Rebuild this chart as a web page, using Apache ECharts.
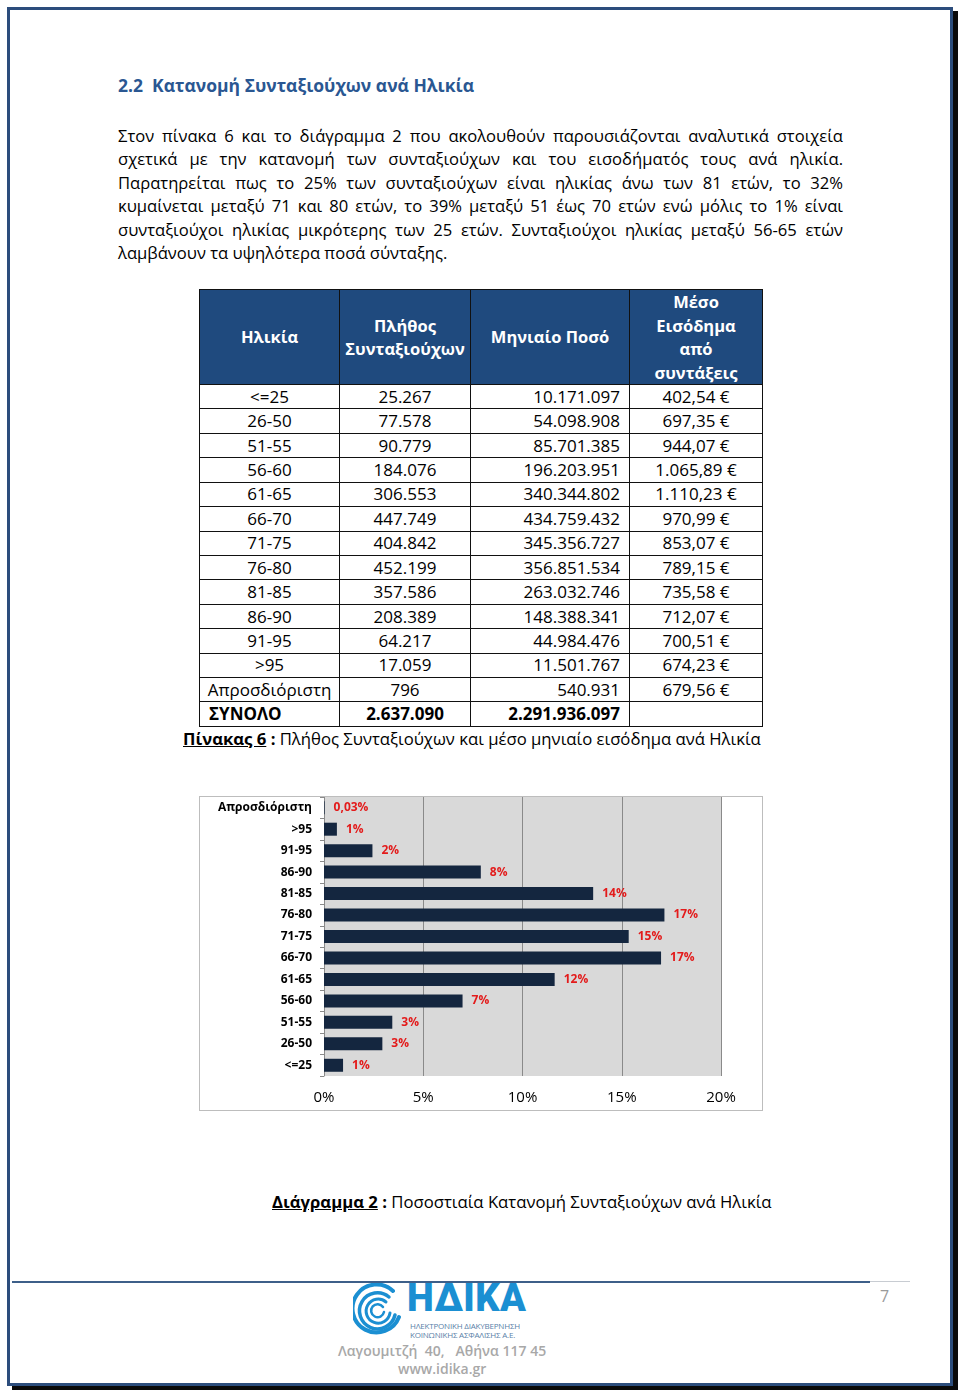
<!DOCTYPE html>
<html>
<head>
<meta charset="utf-8">
<script src="https://cdn.jsdelivr.net/npm/echarts@6/dist/echarts.min.js"></script>
<style>
  html, body { margin: 0; padding: 0; background: #fff; }
  body { width: 960px; height: 1392px; position: relative; overflow: hidden; font-family: "Open Sans", "Noto Sans", sans-serif; color: #000; }
  .frame { position: absolute; left: 7px; top: 7px; width: 940px; height: 1373px; border: 3px solid #2c4d7c; box-shadow: 5px 4px 0 #0a0a0a; }
  .abs { position: absolute; white-space: nowrap; }
  h2 { position: absolute; left: 118px; top: 73px; margin: 0; font-size: 17.5px; font-weight: 700; color: #2a5792; }
  .para { position: absolute; left: 118px; width: 725px; top: 124px; font-size: 16.6px; line-height: 23.4px; }
  .para div { text-align: justify; text-align-last: justify; white-space: nowrap; }
  .para div.last { text-align-last: left; }
  table { position: absolute; left: 199px; top: 289px; border-collapse: collapse; table-layout: fixed; font-size: 17px; }
  td, th { border: 1.5px solid #111; padding: 0; overflow: hidden; white-space: nowrap; }
  th { background: #1f4a7e; color: #fff; font-weight: 700; line-height: 23.5px; height: 94px; font-size: 16.5px; }
  td { height: 23.43px; line-height: 22px; }
  .c { text-align: center; }
  .r { text-align: right; padding-right: 9px; }
  .l { text-align: left; padding-left: 9px; }
  .b { font-weight: 700; }
  .cap { font-size: 16.7px; }
  #chartBox { position: absolute; left: 199px; top: 796px; width: 564px; height: 315px; border: 1px solid #bdbdbd; box-sizing: border-box; }
  #chart { position: absolute; left: 0; top: 0; width: 562px; height: 313px; }
</style>
</head>
<body>
<div class="frame"></div>

<h2>2.2&nbsp; Κατανομή Συνταξιούχων ανά Ηλικία</h2>

<div class="para">
  <div>Στον πίνακα 6 και το διάγραμμα 2 που ακολουθούν παρουσιάζονται αναλυτικά στοιχεία</div>
  <div>σχετικά με την κατανομή των συνταξιούχων και του εισοδήματός τους ανά ηλικία.</div>
  <div>Παρατηρείται πως το 25% των συνταξιούχων είναι ηλικίας άνω των 81 ετών, το 32%</div>
  <div>κυμαίνεται μεταξύ 71 και 80 ετών, το 39% μεταξύ 51 έως 70 ετών ενώ μόλις το 1% είναι</div>
  <div>συνταξιούχοι ηλικίας μικρότερης των 25 ετών. Συνταξιούχοι ηλικίας μεταξύ 56-65 ετών</div>
  <div class="last">λαμβάνουν τα υψηλότερα ποσά σύνταξης.</div>
</div>

<table id="tbl">
  <colgroup><col style="width:140px"><col style="width:131px"><col style="width:159px"><col style="width:133px"></colgroup>
  <thead>
    <tr>
      <th>Ηλικία</th>
      <th>Πλήθος<br>Συνταξιούχων</th>
      <th>Μηνιαίο Ποσό</th>
      <th>Μέσο<br>Εισόδημα<br>από<br>συντάξεις</th>
    </tr>
  </thead>
  <tbody id="tbody"></tbody>
</table>

<div class="abs cap" style="left:183px; top:727px;"><b><u>Πίνακας 6</u> :</b> Πλήθος Συνταξιούχων και μέσο μηνιαίο εισόδημα ανά Ηλικία</div>

<div id="chartBox"><div id="chart"></div></div>

<div class="abs cap" style="left:272px; top:1190px;"><b><u>Διάγραμμα 2</u> :</b> Ποσοστιαία Κατανομή Συνταξιούχων ανά Ηλικία</div>

<!-- footer -->
<div class="abs" style="left:12px; top:1281px; width:858px; height:2px; background:#3d5f89;"></div>
<div class="abs" style="left:870px; top:1281px; width:40px; height:1px; background:#c8ccd2;"></div>
<div class="abs" style="left:880px; top:1285px; font-size:16px; color:#9a9a9a;">7</div>
<svg class="abs" style="left:353px; top:1283px;" width="52" height="56" viewBox="0 0 52 56">
  <g fill="none" stroke="#1b8fd2" stroke-linecap="round">
    <path d="M40 8 A24 24 0 1 0 46 34" stroke-width="4"/>
    <path d="M36 14 A18 18 0 1 0 42 32" stroke-width="3.5"/>
    <path d="M33 19 A12 12 0 1 0 37 30" stroke-width="3"/>
    <path d="M30 24 A6.5 6.5 0 1 0 31 29" stroke-width="2.5"/>
  </g>
</svg>
<div class="abs" style="left:407px; top:1282px; height:32px; font-size:38px; line-height:32px; font-weight:900; color:#1b8fd2; font-family:Roboto, sans-serif; letter-spacing:0.5px;">ΗΔΙΚΑ</div>
<div class="abs" style="left:410px; top:1321px; font-size:8px; color:#5a7fa8; letter-spacing:-0.2px; line-height:9px;">ΗΛΕΚΤΡΟΝΙΚΗ ΔΙΑΚΥΒΕΡΝΗΣΗ<br>ΚΟΙΝΩΝΙΚΗΣ ΑΣΦΑΛΙΣΗΣ Α.Ε.</div>
<div class="abs" style="left:338px; top:1341px; font-size:14px; font-weight:600; color:#a8a8a8;">Λαγουμιτζή&nbsp; 40,&nbsp;&nbsp; Αθήνα 117 45</div>
<div class="abs" style="left:398px; top:1359px; font-size:14px; font-weight:600; color:#a8a8a8;">www.idika.gr</div>

<script>
// ---- Table 6 data ----
const tableAges = ['<=25', '26-50', '51-55', '56-60', '61-65', '66-70', '71-75', '76-80', '81-85', '86-90', '91-95', '>95', 'Απροσδιόριστη'];
const tableCounts = ['25.267', '77.578', '90.779', '184.076', '306.553', '447.749', '404.842', '452.199', '357.586', '208.389', '64.217', '17.059', '796'];
const tableAmounts = ['10.171.097', '54.098.908', '85.701.385', '196.203.951', '340.344.802', '434.759.432', '345.356.727', '356.851.534', '263.032.746', '148.388.341', '44.984.476', '11.501.767', '540.931'];
const tableAvgIncome = ['402,54 €', '697,35 €', '944,07 €', '1.065,89 €', '1.110,23 €', '970,99 €', '853,07 €', '789,15 €', '735,58 €', '712,07 €', '700,51 €', '674,23 €', '679,56 €'];
const totalRow = ['ΣΥΝΟΛΟ', '2.637.090', '2.291.936.097', ''];

// ---- Chart 2 data (bottom to top) ----
const chartCategories = ['<=25', '26-50', '51-55', '56-60', '61-65', '66-70', '71-75', '76-80', '81-85', '86-90', '91-95', '>95', 'Απροσδιόριστη'];
const chartPercent = [0.96, 2.94, 3.44, 6.98, 11.62, 16.98, 15.35, 17.15, 13.56, 7.90, 2.44, 0.65, 0.03];
const chartLabels = ['1%', '3%', '3%', '7%', '12%', '17%', '15%', '17%', '14%', '8%', '2%', '1%', '0,03%'];
const xTicks = [0, 5, 10, 15, 20];

// build table
const tb = document.getElementById('tbody');
let html = '';
for (let i = 0; i < tableAges.length; i++) {
  html += '<tr><td class="c">' + tableAges[i].replace('<', '&lt;').replace('>', '&gt;') + '</td><td class="c">' + tableCounts[i] +
          '</td><td class="r">' + tableAmounts[i] + '</td><td class="c">' + tableAvgIncome[i] + '</td></tr>';
}
html += '<tr class="b"><td class="l">' + totalRow[0] + '</td><td class="c">' + totalRow[1] + '</td><td class="r">' + totalRow[2] + '</td><td>' + totalRow[3] + '</td></tr>';
tb.innerHTML = html;

// chart
const chart = echarts.init(document.getElementById('chart'), null, { renderer: 'canvas' });
const FONT = '"Open Sans", "Noto Sans", sans-serif';
chart.setOption({
  animation: false,
  textStyle: { fontFamily: FONT },
  grid: { left: 124, right: 41, top: 0, bottom: 34, show: true, backgroundColor: '#d9d9d9', borderWidth: 0, containLabel: false },
  xAxis: {
    type: 'value', min: xTicks[0], max: xTicks[xTicks.length - 1], interval: xTicks[1] - xTicks[0],
    axisLine: { show: false }, axisTick: { show: false },
    splitLine: { show: true, lineStyle: { color: '#8a8a8a', width: 1 } },
    axisLabel: { formatter: '{value}%', fontSize: 15, color: '#000', margin: 14, fontFamily: FONT }
  },
  yAxis: {
    type: 'category', data: chartCategories,
    axisLine: { show: true, lineStyle: { color: '#8a8a8a', width: 1 } },
    axisTick: { show: true, length: 4, lineStyle: { color: '#8a8a8a' } },
    axisLabel: { fontSize: 12, fontWeight: 'bold', color: '#000', margin: 12, fontFamily: FONT }
  },
  series: [{
    type: 'bar', data: chartPercent, barWidth: 13,
    itemStyle: { color: '#14263f' },
    label: {
      show: true, position: 'right', distance: 9,
      formatter: p => chartLabels[p.dataIndex],
      color: '#e31b1b', fontWeight: 'bold', fontSize: 12, fontFamily: FONT
    }
  }]
});
</script>
</body>
</html>
